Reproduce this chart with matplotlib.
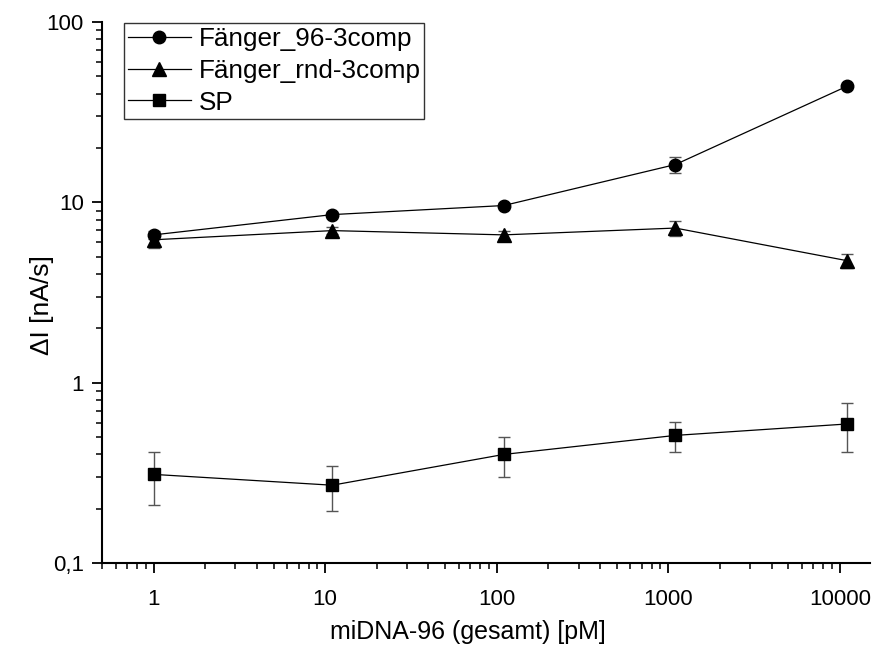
import matplotlib
matplotlib.use("Agg")
import matplotlib.pyplot as plt
from matplotlib.ticker import FixedLocator, FixedFormatter, LogLocator, NullFormatter

plt.rcParams['font.family'] = ['Liberation Sans', 'DejaVu Sans']

# Data
x = [1, 11, 110, 1100, 11000]
faenger96 = [6.6, 8.55, 9.6, 16.2, 44.0]
faenger96_err = [0.3, 0.3, 0.3, 1.7, 1.0]
faengerrnd = [6.2, 6.97, 6.6, 7.2, 4.75]
faengerrnd_err = [0.6, 0.3, 0.3, 0.7, 0.45]
sp = [0.31, 0.27, 0.40, 0.51, 0.59]
sp_err = [0.10, 0.075, 0.10, 0.095, 0.18]

series_labels = ['Fänger_96-3comp', 'Fänger_rnd-3comp', 'SP']
xticks = [1, 10, 100, 1000, 10000]
xticklabels = ['1', '10', '100', '1000', '10000']
yticks = [0.1, 1, 10, 100]
yticklabels = ['0,1', '1', '10', '100']

fig = plt.figure(figsize=(8.72, 6.48), dpi=100)
ax = fig.add_axes([102/872, (648-563)/648, (870-102)/872, (563-22)/648])

ekw = dict(fmt='none', ecolor='#555555', elinewidth=1.0, capsize=4, capthick=1.0, zorder=2)
ax.errorbar(x, faenger96, yerr=faenger96_err, **ekw)
ax.errorbar(x, faengerrnd, yerr=faengerrnd_err, **ekw)
ax.errorbar(x, sp, yerr=sp_err, **ekw)

ax.plot(x, faenger96, '-o', color='black', lw=0.9, ms=9, label=series_labels[0], zorder=3)
ax.plot(x, faengerrnd, '-^', color='black', lw=0.9, ms=9.5, label=series_labels[1], zorder=3)
ax.plot(x, sp, '-s', color='black', lw=0.9, ms=8, label=series_labels[2], zorder=3)

ax.set_xscale('log')
ax.set_yscale('log')
ax.set_xlim(0.5, 15000)
ax.set_ylim(0.1, 100)

ax.xaxis.set_major_locator(FixedLocator(xticks))
ax.xaxis.set_major_formatter(FixedFormatter(xticklabels))
ax.yaxis.set_major_locator(FixedLocator(yticks))
ax.yaxis.set_major_formatter(FixedFormatter(yticklabels))
ax.xaxis.set_minor_locator(LogLocator(base=10, subs=range(2, 10)))
ax.yaxis.set_minor_locator(LogLocator(base=10, subs=range(2, 10)))
ax.xaxis.set_minor_formatter(NullFormatter())
ax.yaxis.set_minor_formatter(NullFormatter())

for s in ['top', 'right']:
    ax.spines[s].set_visible(False)
for s in ['left', 'bottom']:
    ax.spines[s].set_linewidth(1.5)

ax.tick_params(which='major', direction='out', length=7, width=1.3, labelsize=16)
ax.tick_params(axis='x', which='major', pad=12)
ax.tick_params(axis='y', which='major', pad=6)
ax.tick_params(which='minor', direction='out', length=4, width=1.1)

ax.set_xlabel('miDNA-96 (gesamt) [pM]', fontsize=18)
ax.set_ylabel('ΔI [nA/s]', fontsize=19)
ax.xaxis.set_label_coords(0.477, -0.128)
ax.yaxis.set_label_coords(-0.078, 0.477)
ax.yaxis.label.set_verticalalignment('center')
ax.xaxis.label.set_verticalalignment('center')

leg = ax.legend(loc='upper left', bbox_to_anchor=(124/872, 1-23/648),
                bbox_transform=fig.transFigure, fontsize=18.8, frameon=True,
                fancybox=False, edgecolor='black', borderpad=0.15,
                handlelength=2.4, handletextpad=0.3, labelspacing=0.3,
                borderaxespad=0)
leg.get_frame().set_linewidth(1.0)

fig.savefig('out.png', dpi=100)
